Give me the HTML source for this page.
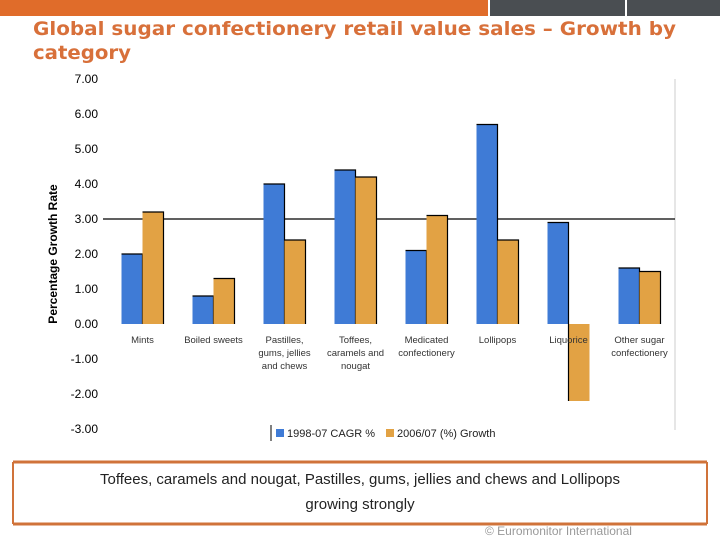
<!DOCTYPE html>
<html><head><meta charset="utf-8"><style>
body{margin:0;width:720px;height:540px;overflow:hidden;background:#fff;font-family:"Liberation Sans",sans-serif}
</style></head><body>
<svg width="720" height="540" xmlns="http://www.w3.org/2000/svg">
<rect x="0" y="0" width="488" height="16" fill="#e06c2a"/>
<rect x="490" y="0" width="135" height="16" fill="#4a4e52"/>
<rect x="627" y="0" width="93" height="16" fill="#4a4e52"/>
<text x="33" y="35" font-size="19" font-weight="bold" fill="#d8703a" font-family="DejaVu Sans,sans-serif" textLength="643" lengthAdjust="spacingAndGlyphs">Global sugar confectionery retail value sales – Growth by</text>
<text x="33" y="59" font-size="19" font-weight="bold" fill="#d8703a" font-family="DejaVu Sans,sans-serif" textLength="98" lengthAdjust="spacingAndGlyphs">category</text>
<line x1="675" y1="79" x2="675" y2="430" stroke="#ccc"/>
<g id="chart"></g>
<text transform="translate(57,254) rotate(-90)" text-anchor="middle" font-size="12" font-weight="bold" fill="#000">Percentage Growth Rate</text>
<line x1="271" y1="425" x2="271" y2="441" stroke="#000"/>
<rect x="276" y="429" width="8" height="8" fill="#3f7bd6"/>
<text x="287" y="437" font-size="11" fill="#222">1998-07 CAGR %</text>
<rect x="386" y="429" width="8" height="8" fill="#e2a244"/>
<text x="397" y="437" font-size="11" fill="#222">2006/07 (%) Growth</text>
<line x1="13" y1="462" x2="707" y2="462" stroke="#d0733a" stroke-width="3"/>
<line x1="13" y1="524" x2="707" y2="524" stroke="#d0733a" stroke-width="3"/>
<line x1="13" y1="462" x2="13" y2="524" stroke="#d0733a" stroke-width="2"/>
<line x1="707" y1="462" x2="707" y2="524" stroke="#d0733a" stroke-width="2"/>
<text x="360" y="484" text-anchor="middle" font-size="15" fill="#222">Toffees, caramels and nougat, Pastilles, gums, jellies and chews and Lollipops</text>
<text x="360" y="509" text-anchor="middle" font-size="15" fill="#222">growing strongly</text>
<text x="485" y="535" font-size="12" fill="#999">© Euromonitor International</text>
</svg>
<script>
const categories=[["Mints"],["Boiled sweets"],["Pastilles,","gums, jellies","and chews"],["Toffees,","caramels and","nougat"],["Medicated","confectionery"],["Lollipops"],["Liquorice"],["Other sugar","confectionery"]];
const cagr=[2.0,0.8,4.0,4.4,2.1,5.7,2.9,1.6];
const growth=[3.2,1.3,2.4,4.2,3.1,2.4,-2.2,1.5];
const ticks=[7,6,5,4,3,2,1,0,-1,-2,-3];
const NS="http://www.w3.org/2000/svg";
const g=document.getElementById('chart');
const y=v=>324-v*35;
const x=i=>107+71*(i+0.5);
function mk(t,a){const e=document.createElementNS(NS,t);for(const k in a)e.setAttribute(k,a[k]);g.appendChild(e);return e;}
ticks.forEach(t=>{const e=mk('text',{x:98,y:y(t)+4,'text-anchor':'end','font-size':12,fill:'#000'});e.textContent=t.toFixed(2);

});
const gl=mk('line',{x1:103,x2:675,y1:y(3),y2:y(3),stroke:'#000','stroke-width':1.2});


function bar(x0,w,v,col){const t=Math.min(y(v),y(0)),h=Math.abs(y(v)-y(0));
const r=mk('rect',{x:x0,y:t,width:w,height:h,fill:col});


const p=mk('path',{d:v>=0?`M${x0} ${t}H${x0+w}V${y(0)}`:`M${x0} ${y(0)}V${t+h}`,stroke:'#000','stroke-width':1.2,fill:'none'});

}
categories.forEach((c,i)=>{const cx=x(i);
bar(cx-21,21,cagr[i],'#3f7bd6');bar(cx,21,growth[i],'#e2a244');
c.forEach((l,j)=>{const e=mk('text',{x:cx,y:343+j*13,'text-anchor':'middle','font-size':9.5,fill:'#333'});e.textContent=l;

});});
</script>
</body></html>
